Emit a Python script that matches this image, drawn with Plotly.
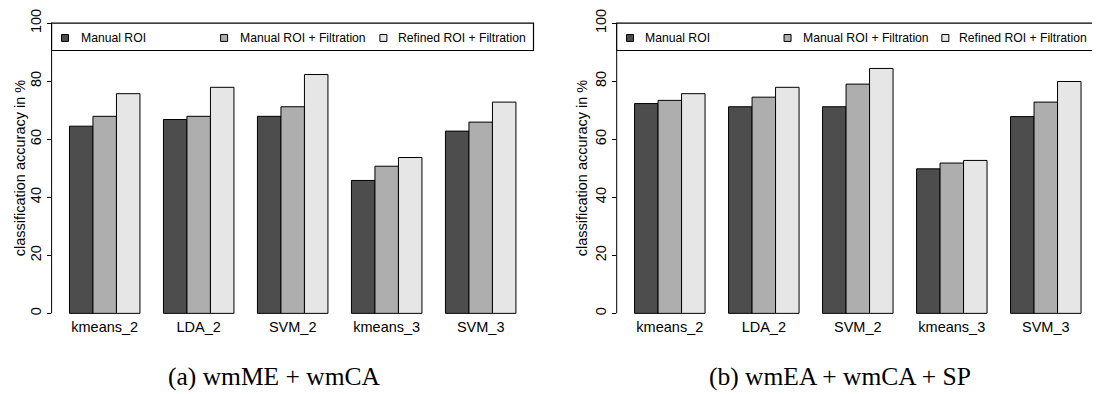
import plotly.graph_objects as go

# ---- data ----
classifiers = ["kmeans_2", "LDA_2", "SVM_2", "kmeans_3", "SVM_3"]
series_names = ["Manual ROI", "Manual ROI + Filtration", "Refined ROI + Filtration"]

# (a) wmME + wmCA
a_manual = [64.5, 66.8, 67.9, 45.8, 62.8]
a_manual_filt = [67.9, 67.9, 71.2, 50.7, 65.9]
a_refined_filt = [75.7, 77.9, 82.3, 53.7, 72.8]

# (b) wmEA + wmCA + SP
b_manual = [72.3, 71.2, 71.2, 49.8, 67.8]
b_manual_filt = [73.4, 74.5, 79.0, 51.8, 72.8]
b_refined_filt = [75.7, 77.9, 84.4, 52.7, 79.9]

captions = ["(a) wmME + wmCA", "(b) wmEA + wmCA + SP"]
y_title = "classification accuracy in %"
y_ticks = [0, 20, 40, 60, 80, 100]

colors = ["#4D4D4D", "#AEAEAE", "#E6E6E6"]

# page body has an 8px margin: figure is placed at (8, 8) in the window
OFF = 8
W, H = 1100 - OFF, 394 - OFF
SANS = "Liberation Sans, Arial, sans-serif"
SERIF = "Liberation Serif, Times New Roman, serif"


def px(x):
    """window x pixel -> paper fraction"""
    return (x - OFF) / W


def py(y):
    """window y pixel -> paper fraction"""
    return 1 - (y - OFF) / H


fig = go.Figure()

panels = [
    dict(data=[a_manual, a_manual_filt, a_refined_filt], xa="x", ya="y",
         left=51.6, right=533.8, box_right=533.5, caption_x=274, title_x=20),
    dict(data=[b_manual, b_manual_filt, b_refined_filt], xa="x2", ya="y2",
         left=616.7, right=1098.9, box_right=1094.0, caption_x=840, title_x=582),
]

# y mapping (window px): value 0 -> 312.3, 100 -> 18.3 ; axis range [-1, 103]
y_lo, y_hi = -1, 103
ppu = (312.3 - 18.3) / 100.0
y_top_px = 312.3 - y_hi * ppu
y_bot_px = 312.3 - y_lo * ppu
y_domain = [py(y_bot_px), py(y_top_px)]

annotations = []
shapes = []

for i, p in enumerate(panels):
    for vals, name, col in zip(p["data"], series_names, colors):
        fig.add_trace(go.Bar(
            x=classifiers, y=vals, name=name, xaxis=p["xa"], yaxis=p["ya"],
            marker=dict(color=col, line=dict(color="black", width=1)),
            showlegend=False,
        ))

    # axis line from 0 to 100 only (R style)
    shapes.append(dict(type="line", xref="paper", yref=p["ya"],
                       x0=px(p["left"]), x1=px(p["left"]), y0=0, y1=100,
                       line=dict(color="black", width=1)))

    # legend box
    L = p["left"]
    s = (p["box_right"] - L) / (533.5 - 51.6)
    shapes.append(dict(type="rect", xref="paper", yref="paper",
                       x0=px(L), x1=px(p["box_right"]), y0=py(46.0), y1=py(18.3),
                       line=dict(color="black", width=1.2), fillcolor="white",
                       layer="above"))
    sq_centers = [L + 13.4 * s, L + 172.5 * s, L + 331.8 * s]
    txt_starts = [L + 28.0 * s, L + 187.0 * s, L + 345.0 * s]
    for name, col, sc, ts in zip(series_names, colors, sq_centers, txt_starts):
        shapes.append(dict(type="rect", xref="paper", yref="paper",
                           x0=px(sc - 3.5), x1=px(sc + 3.5),
                           y0=py(36.8), y1=py(29.8),
                           line=dict(color="black", width=1), fillcolor=col,
                           layer="above"))
        annotations.append(dict(text=name, xref="paper", yref="paper",
                                x=px(ts), y=py(33.0), xanchor="left", yanchor="middle",
                                showarrow=False, borderpad=0,
                                font=dict(family=SANS, size=12.2, color="black")))

    # y-axis title
    annotations.append(dict(text=y_title, xref="paper", yref="paper",
                            x=px(p["title_x"]), y=py(165.3), textangle=-90,
                            xanchor="center", yanchor="middle", showarrow=False,
                            font=dict(family=SANS, size=14.5, color="black")))
    # caption
    annotations.append(dict(text=captions[i], xref="paper", yref="paper",
                            x=px(p["caption_x"]), y=py(376), xanchor="center",
                            yanchor="middle", showarrow=False,
                            font=dict(family=SERIF, size=25.5, color="black")))

xcommon = dict(type="category", categoryorder="array", categoryarray=classifiers,
               range=[-0.565, 4.565], showline=False, showgrid=False, zeroline=False,
               ticks="", tickfont=dict(family=SANS, size=14.5, color="black"))
ycommon = dict(range=[y_lo, y_hi], tickvals=y_ticks, ticktext=[str(v) for v in y_ticks],
               tickangle=-90, ticks="outside", ticklen=4, tickwidth=1, tickcolor="black",
               ticklabeloverflow="allow",
               showline=False, showgrid=False, zeroline=False, domain=y_domain,
               tickfont=dict(family=SANS, size=14.5, color="black"))

fig.update_layout(
    width=W, height=H,
    margin=dict(l=0, r=0, t=0, b=0),
    paper_bgcolor="white", plot_bgcolor="white",
    barmode="group", bargap=0.25, bargroupgap=0,
    xaxis=dict(domain=[px(panels[0]["left"]), px(panels[0]["right"])], anchor="y", **xcommon),
    yaxis=dict(anchor="x", **ycommon),
    xaxis2=dict(domain=[px(panels[1]["left"]), px(panels[1]["right"])], anchor="y2", **xcommon),
    yaxis2=dict(anchor="x2", **ycommon),
    shapes=shapes,
    annotations=annotations,
    showlegend=False,
)

fig.write_html("out.html")
